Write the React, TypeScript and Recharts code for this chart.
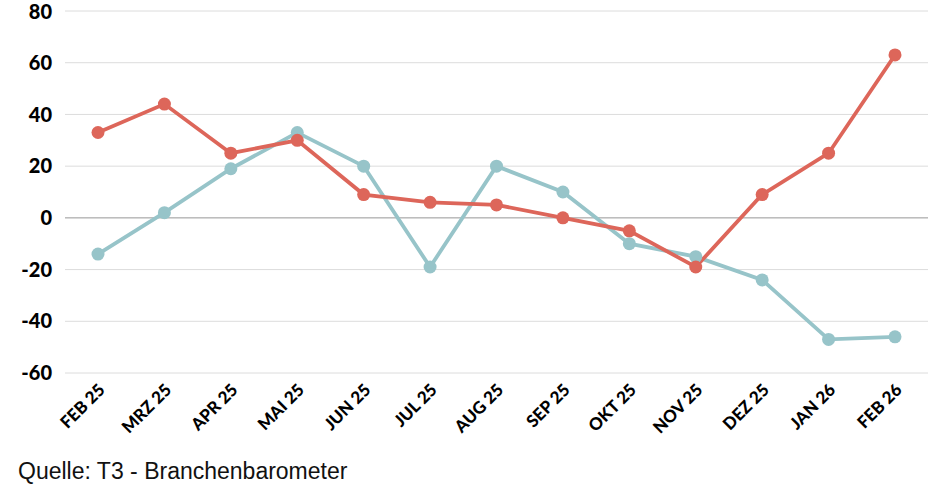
import React from "react";
import { LineChart, Line, XAxis, YAxis, CartesianGrid, ReferenceLine } from "recharts";

const months = ["FEB 25", "MRZ 25", "APR 25", "MAI 25", "JUN 25", "JUL 25", "AUG 25", "SEP 25", "OKT 25", "NOV 25", "DEZ 25", "JAN 26", "FEB 26"];
const redSeries = [33, 44, 25, 30, 9, 6, 5, 0, -5, -19, 9, 25, 63];
const blueSeries = [-14, 2, 19, 33, 20, -19, 20, 10, -10, -15, -24, -47, -46];
const yTicks = [-60, -40, -20, 0, 20, 40, 60, 80];

const data = months.map((m, i) => ({ month: m, red: redSeries[i], blue: blueSeries[i] }));

const XTick = (props: any) => {
  const { x, y, payload } = props;
  return (
    <g transform={`translate(${x + 8},${y + 10})`}>
      <text
        x={0}
        y={0}
        textAnchor="end"
        transform="rotate(-45)"
        fontFamily="Lato, sans-serif"
        fontWeight={900}
        fontSize={17}
        fill="#000"
      >
        {payload.value}
      </text>
    </g>
  );
};

export default function App() {
  return (
    <div style={{ position: "absolute", left: 0, top: 0, width: 950, height: 495, background: "#fff" }}>
      <LineChart width={950} height={440} data={data} margin={{ top: 11, right: 22, bottom: 0, left: 0 }}>
        <CartesianGrid vertical={false} stroke="#dcdcdc" strokeWidth={1} />
        <ReferenceLine y={0} stroke="#bdbdbd" strokeWidth={1.5} />
        <XAxis
          dataKey="month"
          axisLine={false}
          tickLine={false}
          interval={0}
          height={67}
          padding={{ left: 33, right: 33 }}
          tick={<XTick />}
        />
        <YAxis
          domain={[-60, 80]}
          ticks={yTicks}
          axisLine={false}
          tickLine={false}
          tickSize={0}
          tickMargin={13}
          width={65}
          tick={{ fontFamily: "Lato, sans-serif", fontWeight: 900, fontSize: 20, fill: "#000" }}
        />
        <Line
          dataKey="blue"
          stroke="#97c4c9"
          strokeWidth={3.8}
          dot={{ r: 6.5, fill: "#97c4c9", stroke: "none" }}
          isAnimationActive={false}
        />
        <Line
          dataKey="red"
          stroke="#dd665a"
          strokeWidth={3.8}
          dot={{ r: 6.5, fill: "#dd665a", stroke: "none" }}
          isAnimationActive={false}
        />
      </LineChart>
      <div
        style={{
          position: "absolute",
          left: 18,
          top: 458,
          fontFamily: "'Liberation Sans', Arial, sans-serif",
          fontSize: 23,
          lineHeight: "26px",
          color: "#111",
          whiteSpace: "nowrap",
        }}
      >
        Quelle: T3 - Branchenbarometer
      </div>
    </div>
  );
}
